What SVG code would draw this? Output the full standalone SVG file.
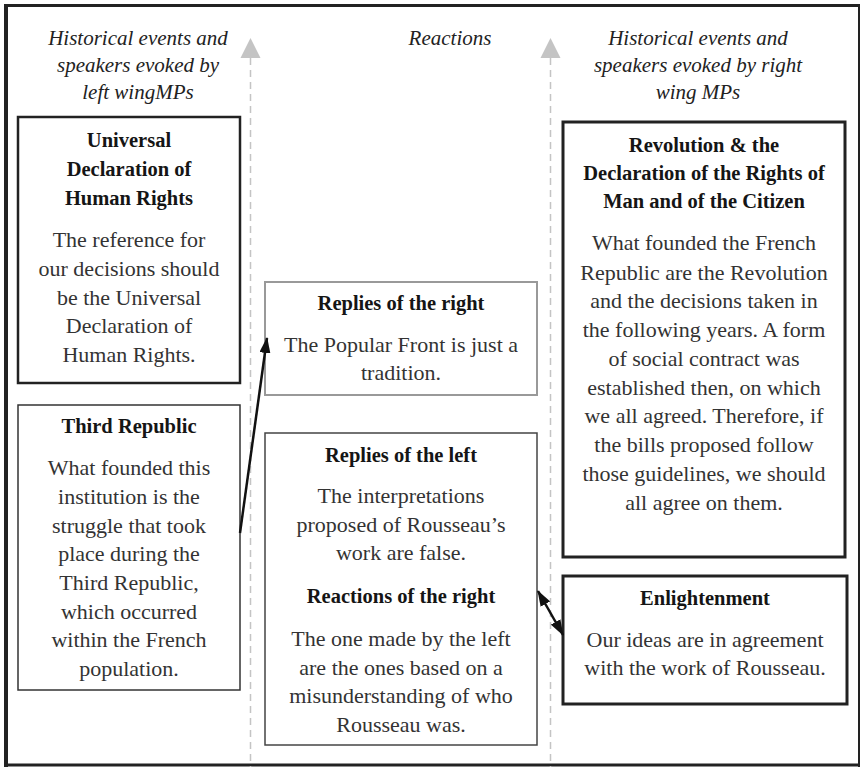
<svg xmlns="http://www.w3.org/2000/svg" width="862" height="767" viewBox="0 0 862 767">
  <defs>
    <marker id="head" viewBox="0 0 16 11" refX="15" refY="5.5" markerWidth="16" markerHeight="11" markerUnits="userSpaceOnUse" orient="auto-start-reverse">
      <path d="M0,0 L16,5.5 L0,11 z" fill="#111"/>
    </marker>
  </defs>
  <style>
    .hdr { font-family: "Liberation Serif", serif; font-style: italic; font-size: 21px; fill: #222; text-anchor: middle; }
    .ttl { font-family: "Liberation Serif", serif; font-weight: bold; font-size: 20.5px; fill: #151515; text-anchor: middle; }
    .txt { font-family: "Liberation Serif", serif; font-size: 22px; fill: #333; text-anchor: middle; }
    .box { fill: #fff; }
    .guide { stroke: #c4c4c4; stroke-width: 1.5; stroke-dasharray: 7 5; fill: none; }
    .guide-head { fill: #c4c4c4; }
    .link { stroke: #111; stroke-width: 2.5; fill: none; }
  </style>

  <rect width="862" height="767" fill="#fff"/>

  <!-- outer frame -->
  <g id="frame" stroke="#222" fill="none">
    <line x1="4" y1="5.5" x2="860" y2="5.5" stroke-width="3"/>
    <line x1="6" y1="4" x2="6" y2="767" stroke-width="4"/>
    <line x1="859" y1="4" x2="859" y2="767" stroke-width="2"/>
    <line x1="4" y1="765" x2="860" y2="765" stroke-width="3"/>
  </g>

  <!-- column guides -->
  <g id="guides">
    <line class="guide" x1="250.5" y1="58" x2="250.5" y2="767"/>
    <polygon class="guide-head" points="250.5,38 240.5,58 260.5,58"/>
    <line class="guide" x1="550.5" y1="58" x2="550.5" y2="767"/>
    <polygon class="guide-head" points="550.5,38 540.5,58 560.5,58"/>
  </g>

  <!-- column headings -->
  <g id="headings">
    <text class="hdr" x="138" y="45">Historical events and</text>
    <text class="hdr" x="138" y="72">speakers evoked by</text>
    <text class="hdr" x="138" y="99">left wingMPs</text>
    <text class="hdr" x="450" y="45">Reactions</text>
    <text class="hdr" x="698" y="45">Historical events and</text>
    <text class="hdr" x="698" y="72">speakers evoked by right</text>
    <text class="hdr" x="698" y="99">wing MPs</text>
  </g>

  <g id="udhr">
    <rect class="box" x="18" y="117" width="222" height="266" stroke="#222" stroke-width="2.5"/>
    <text class="ttl" x="129" y="147">Universal</text>
    <text class="ttl" x="129" y="176">Declaration of</text>
    <text class="ttl" x="129" y="205">Human Rights</text>
    <text class="txt" x="129" y="247">The reference for</text>
    <text class="txt" x="129" y="276">our decisions should</text>
    <text class="txt" x="129" y="305">be the Universal</text>
    <text class="txt" x="129" y="333">Declaration of</text>
    <text class="txt" x="129" y="362">Human Rights.</text>
  </g>

  <g id="third-republic">
    <rect class="box" x="18" y="405" width="222" height="285" stroke="#333" stroke-width="1.5"/>
    <text class="ttl" x="129" y="433">Third Republic</text>
    <text class="txt" x="129" y="475">What founded this</text>
    <text class="txt" x="129" y="504">institution is the</text>
    <text class="txt" x="129" y="533">struggle that took</text>
    <text class="txt" x="129" y="561">place during the</text>
    <text class="txt" x="129" y="590">Third Republic,</text>
    <text class="txt" x="129" y="619">which occurred</text>
    <text class="txt" x="129" y="647">within the French</text>
    <text class="txt" x="129" y="676">population.</text>
  </g>

  <g id="replies-right">
    <rect class="box" x="265" y="282" width="272" height="113" stroke="#999" stroke-width="2"/>
    <text class="ttl" x="401" y="310">Replies of the right</text>
    <text class="txt" x="401" y="352">The Popular Front is just a</text>
    <text class="txt" x="401" y="380">tradition.</text>
  </g>

  <g id="replies-left">
    <rect class="box" x="265" y="433" width="272" height="312" stroke="#444" stroke-width="1.5"/>
    <text class="ttl" x="401" y="462">Replies of the left</text>
    <text class="txt" x="401" y="503">The interpretations</text>
    <text class="txt" x="401" y="532">proposed of Rousseau’s</text>
    <text class="txt" x="401" y="560">work are false.</text>
    <text class="ttl" x="401" y="603">Reactions of the right</text>
    <text class="txt" x="401" y="646">The one made by the left</text>
    <text class="txt" x="401" y="675">are the ones based on a</text>
    <text class="txt" x="401" y="703">misunderstanding of who</text>
    <text class="txt" x="401" y="732">Rousseau was.</text>
  </g>

  <g id="revolution">
    <rect class="box" x="563" y="122" width="282" height="435" stroke="#222" stroke-width="3"/>
    <text class="ttl" x="704" y="152">Revolution &amp; the</text>
    <text class="ttl" x="704" y="180">Declaration of the Rights of</text>
    <text class="ttl" x="704" y="208">Man and of the Citizen</text>
    <text class="txt" x="704" y="250">What founded the French</text>
    <text class="txt" x="704" y="280">Republic are the Revolution</text>
    <text class="txt" x="704" y="308">and the decisions taken in</text>
    <text class="txt" x="704" y="337">the following years. A form</text>
    <text class="txt" x="704" y="366">of social contract was</text>
    <text class="txt" x="704" y="395">established then, on which</text>
    <text class="txt" x="704" y="423">we all agreed. Therefore, if</text>
    <text class="txt" x="704" y="452">the bills proposed follow</text>
    <text class="txt" x="704" y="481">those guidelines, we should</text>
    <text class="txt" x="704" y="510">all agree on them.</text>
  </g>

  <g id="enlightenment">
    <rect class="box" x="563" y="576" width="284" height="128" stroke="#222" stroke-width="3"/>
    <text class="ttl" x="705" y="605">Enlightenment</text>
    <text class="txt" x="705" y="647">Our ideas are in agreement</text>
    <text class="txt" x="705" y="675">with the work of Rousseau.</text>
  </g>

  <!-- connectors -->
  <g id="connectors">
    <line class="link" x1="240" y1="533" x2="267" y2="338" marker-end="url(#head)"/>
    <line class="link" x1="538" y1="591" x2="563" y2="635" marker-start="url(#head)" marker-end="url(#head)"/>
  </g>
</svg>
